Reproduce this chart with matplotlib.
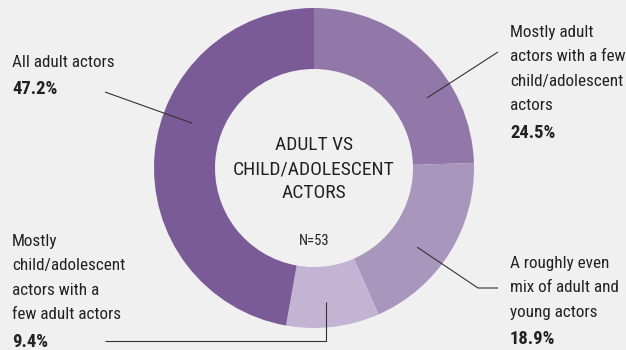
import numpy as np
import matplotlib
matplotlib.use("Agg")
import matplotlib.pyplot as plt

# Donut data, clockwise from 12 o'clock
shares = [24.5, 18.9, 9.4, 47.2]
pct_labels = ["24.5%", "18.9%", "9.4%", "47.2%"]
labels = [
    ["Mostly adult", "actors with a few", "child/adolescent", "actors"],
    ["A roughly even", "mix of adult and", "young actors"],
    ["Mostly", "child/adolescent", "actors with a", "few adult actors"],
    ["All adult actors"],
]
colors = ["#9178a8", "#a996bd", "#c4b4d4", "#7b5b97"]
title_lines = ["ADULT VS", "CHILD/ADOLESCENT", "ACTORS"]
n_note = "N=53"

plt.rcParams["font.family"] = ["Roboto Condensed", "Archivo Narrow", "DejaVu Sans"]

BG = "#f0f0f0"
INK = "#222222"
W, H = 626, 350
CX, CY, R = 314, 168, 160     # donut centre / outer radius in pixels
HOLE = 99                     # inner radius in pixels
FS = 12.3
LINE_STEP = 24.4
PCT_GAP = 27.5

# label layout: text left x, first baseline y, anchor angle (deg), anchor radius, leader path after anchor
layout = [
    dict(x=510, y=37, ang=31.8, r=133, path=[(498, 52)]),
    dict(x=510, y=268, ang=-37.5, r=130, path=[(478, 288), (498, 288)]),
    dict(x=12, y=246, ang=-84.9, r=134.5, path=[("v", 341), (105, 341)]),
    dict(x=12, y=67, ang=159.8, r=130, path=[(105, 92)]),
]

fig = plt.figure(figsize=(W / 100, H / 100), dpi=100, facecolor=BG)
ax = fig.add_axes([(CX - R) / W, (H - CY - R) / H, 2 * R / W, 2 * R / H])
ax.pie(shares, colors=colors, startangle=90, counterclock=False, radius=1,
       wedgeprops=dict(width=1 - HOLE / R, linewidth=0))
ax.set_xlim(-1, 1)
ax.set_ylim(-1, 1)
ax.set_aspect("auto")
ax.axis("off")

# overlay in pixel coordinates (y down) for labels and leaders
ov = fig.add_axes([0, 0, 1, 1], facecolor="none")
ov.set_xlim(0, W)
ov.set_ylim(H, 0)
ov.axis("off")

for lines, pct, lay in zip(labels, pct_labels, layout):
    for i, line in enumerate(lines):
        ov.text(lay["x"], lay["y"] + i * LINE_STEP, line, fontsize=FS, color=INK,
                ha="left", va="baseline")
    yb = lay["y"] + (len(lines) - 1) * LINE_STEP + PCT_GAP
    ov.text(lay["x"], yb, pct, fontsize=13.4, color=INK, fontweight="bold",
            ha="left", va="baseline")

    a = np.deg2rad(lay["ang"])
    px, py = CX + lay["r"] * np.cos(a), CY - lay["r"] * np.sin(a)
    xs, ys = [px], [py]
    for p in lay["path"]:
        if p[0] == "v":
            xs.append(xs[-1])
            ys.append(p[1])
        else:
            xs.append(p[0])
            ys.append(p[1])
    ov.plot(xs, ys, color="#333333", lw=0.8, solid_capstyle="butt")

for i, line in enumerate(title_lines):
    ov.text(CX, 150 + i * 24, line, fontsize=14, color=INK,
            ha="center", va="baseline")
ov.text(CX, 245, n_note, fontsize=10.5, color=INK,
        ha="center", va="baseline")

fig.savefig("out.png", dpi=100, facecolor=BG)
